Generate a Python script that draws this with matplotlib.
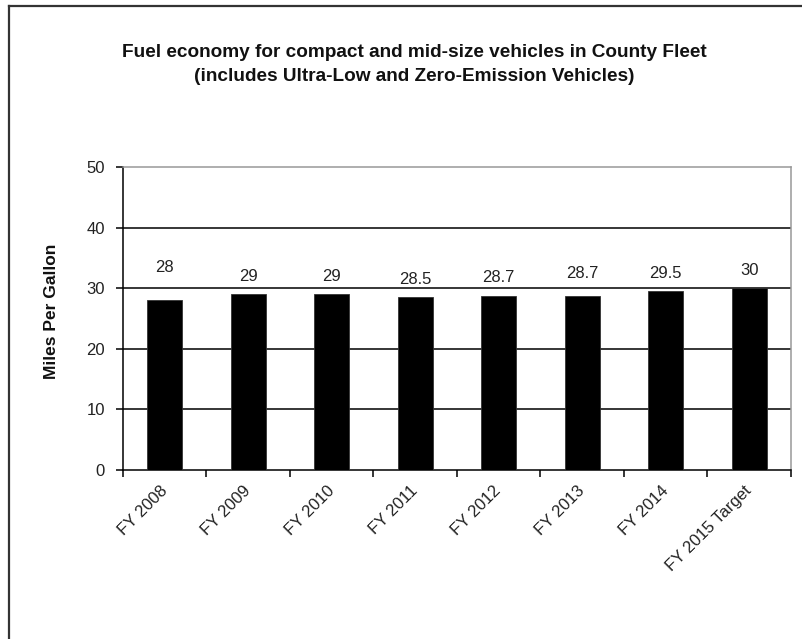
import matplotlib
matplotlib.use("Agg")
import matplotlib.pyplot as plt
from matplotlib.lines import Line2D

# Fleet fuel economy by fiscal year
categories = ["FY 2008", "FY 2009", "FY 2010", "FY 2011", "FY 2012",
              "FY 2013", "FY 2014", "FY 2015 Target"]
mpg = [28, 29, 29, 28.5, 28.7, 28.7, 29.5, 30]
value_labels = ["28", "29", "29", "28.5", "28.7", "28.7", "29.5", "30"]
y_ticks = [0, 10, 20, 30, 40, 50]

title = ("Fuel economy for compact and mid-size vehicles in County Fleet\n"
         "(includes Ultra-Low and Zero-Emission Vehicles)")
y_label = "Miles Per Gallon"

# vertical offset of each value label above its bar, in pixels
label_offsets_px = [33, 18, 18, 18, 19, 23, 18, 18]

plt.rcParams["font.family"] = ["Liberation Sans", "DejaVu Sans"]

fig = plt.figure(figsize=(8.03, 6.39), dpi=100)
fig.patch.set_facecolor("white")

# frame lines along the top and left edges of the figure
fig.add_artist(Line2D([9.5 / 803, 1.0], [1 - 5.5 / 639] * 2,
                      transform=fig.transFigure, color="#333333", lw=1.6))
fig.add_artist(Line2D([9.5 / 803] * 2, [0.0, 1 - 5.5 / 639],
                      transform=fig.transFigure, color="#333333", lw=1.6))

ax = fig.add_axes([123 / 803, 1 - 470 / 639, (791 - 123) / 803, (470 - 167) / 639])

x = list(range(len(categories)))
ax.bar(x, mpg, width=0.42, color="black", edgecolor="#333333", linewidth=0.6, zorder=3)

ax.set_xlim(-0.5, len(categories) - 0.5)
ax.set_ylim(0, 50)

# gridlines
for t in y_ticks[1:-1]:
    ax.axhline(t, color="black", lw=1.1, zorder=1)

ax.spines["top"].set_color("#999999")
ax.spines["right"].set_color("#999999")
ax.spines["left"].set_color("black")
ax.spines["bottom"].set_color("black")
for s in ax.spines.values():
    s.set_linewidth(1.1)

ax.set_yticks(y_ticks)
ax.set_yticklabels([str(t) for t in y_ticks], fontsize=12, color="#222222")
ax.tick_params(axis="y", direction="out", length=5, width=1.1, pad=8)

# major ticks at category boundaries, labels at category centres
ax.set_xticks([i - 0.5 for i in range(len(categories) + 1)])
ax.set_xticklabels([])
ax.tick_params(axis="x", which="major", direction="out", length=5, width=1.1)
ax.set_xticks(x, minor=True)
ax.set_xticklabels(categories, minor=True, rotation=45, ha="right",
                   va="center", rotation_mode="anchor", fontsize=12,
                   color="#222222")
ax.tick_params(axis="x", which="minor", length=0, pad=13)

for xi, v, lab, off in zip(x, mpg, value_labels, label_offsets_px):
    ax.annotate(lab, (xi, v), xytext=(0, off), textcoords="offset pixels",
                ha="center", va="center", fontsize=12, color="#222222",
                zorder=4)

fig.text(52 / 803, 1 - 311 / 639, y_label, rotation=90, ha="center",
         va="center", fontsize=12.5, fontweight="bold", color="#111111")

fig.text(414 / 803, 1 - 64.5 / 639, title, ha="center", va="center",
         fontsize=13.7, fontweight="bold", linespacing=1.55, color="#111111")

fig.savefig("out.png", dpi=100, facecolor="white")
